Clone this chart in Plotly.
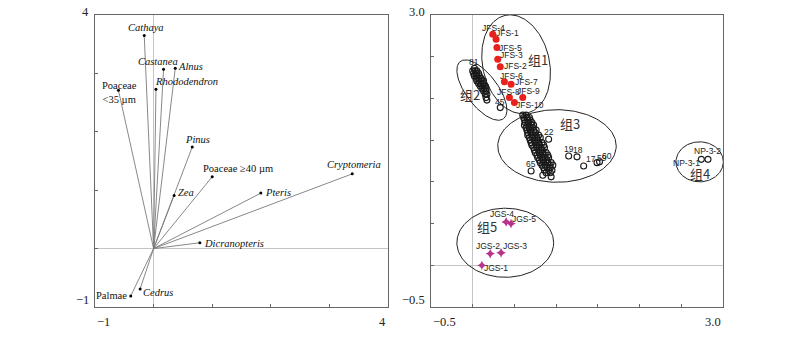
import numpy as np
import plotly.graph_objects as go

# ---------------- Left biplot: taxon scores ----------------
taxa = ["Cathaya", "Castanea", "Alnus", "Rhododendron", "Poaceae<br><35 µm",
        "Pinus", "Poaceae ≥40 µm", "Zea", "Pteris", "Cryptomeria",
        "Dicranopteris", "Cedrus", "Palmae"]
taxa_x = [-0.16, 0.17, 0.37, 0.04, -0.60, 0.66, 1.00, 0.35, 1.83, 3.39, 0.79, -0.23, -0.39]
taxa_y = [3.65, 3.07, 3.09, 2.73, 2.71, 1.74, 1.23, 0.91, 0.95, 1.28, 0.10, -0.69, -0.81]
taxa_italic = [True, True, True, True, False, True, False, True, True, True, True, True, False]

# ---------------- Right plot: sample scores ----------------
jfs_names = ["JFS-4", "JFS-1", "JFS-5", "JFS-3", "JFS-2", "JFS-6", "JFS-7", "JFS-8", "JFS-9", "JFS-10"]
jfs_x = [0.24, 0.28, 0.29, 0.30, 0.33, 0.38, 0.46, 0.44, 0.60, 0.50]
jfs_y = [2.77, 2.71, 2.61, 2.47, 2.38, 2.20, 2.17, 2.01, 2.01, 1.95]

jgs_names = ["JGS-4", "JGS-5", "JGS-2", "JGS-3", "JGS-1"]
jgs_x = [0.40, 0.46, 0.21, 0.34, 0.11]
jgs_y = [0.52, 0.50, 0.14, 0.15, 0.00]

np_names = ["NP-3-2", "NP-3-1"]
np_x = [2.82, 2.74]
np_y = [1.27, 1.27]

grp2_x = [0.00, 0.03, 0.05, 0.01, 0.04, 0.07, 0.02, 0.05, 0.08, 0.04, 0.07, 0.10,
          0.05, 0.08, 0.11, 0.13, 0.07, 0.10, 0.13, 0.09, 0.12, 0.15, 0.11, 0.14,
          0.16, 0.13, 0.16, 0.15, 0.17, 0.16, 0.17]
grp2_y = [2.33, 2.33, 2.33, 2.30, 2.30, 2.30, 2.27, 2.27, 2.27, 2.24, 2.24, 2.24,
          2.21, 2.21, 2.21, 2.21, 2.18, 2.18, 2.18, 2.15, 2.15, 2.15, 2.12, 2.12,
          2.12, 2.09, 2.09, 2.05, 2.05, 2.01, 1.98]
grp2_named = ["81", "45"]
grp2_named_x = [0.02, 0.33]
grp2_named_y = [2.36, 1.89]

grp3_x = [0.60, 0.64,
          0.61, 0.65, 0.68,
          0.62, 0.66, 0.69,
          0.63, 0.67, 0.71,
          0.62, 0.66, 0.70, 0.73,
          0.64, 0.68, 0.72,
          0.65, 0.69, 0.73, 0.76,
          0.66, 0.70, 0.75,
          0.66, 0.71, 0.75, 0.79,
          0.68, 0.72, 0.77, 0.81,
          0.69, 0.74, 0.78,
          0.70, 0.75, 0.79, 0.83,
          0.71, 0.76, 0.80, 0.85,
          0.73, 0.77, 0.82, 0.86,
          0.74, 0.79, 0.83,
          0.75, 0.80, 0.84, 0.88,
          0.77, 0.81, 0.86, 0.90,
          0.78, 0.83, 0.87, 0.91,
          0.80, 0.84, 0.89,
          0.81, 0.85, 0.90, 0.94,
          0.83, 0.87, 0.92, 0.96,
          0.85, 0.89, 0.93,
          0.86, 0.91, 0.95,
          0.88, 0.93]
grp3_y = [1.80, 1.80,
          1.77, 1.77, 1.77,
          1.74, 1.74, 1.74,
          1.71, 1.71, 1.71,
          1.68, 1.68, 1.68, 1.68,
          1.65, 1.65, 1.65,
          1.62, 1.62, 1.62, 1.62,
          1.59, 1.59, 1.59,
          1.56, 1.56, 1.56, 1.56,
          1.53, 1.53, 1.53, 1.53,
          1.50, 1.50, 1.50,
          1.47, 1.47, 1.47, 1.47,
          1.44, 1.44, 1.44, 1.44,
          1.41, 1.41, 1.41, 1.41,
          1.38, 1.38, 1.38,
          1.35, 1.35, 1.35, 1.35,
          1.32, 1.32, 1.32, 1.32,
          1.29, 1.29, 1.29, 1.29,
          1.26, 1.26, 1.26,
          1.23, 1.23, 1.23, 1.23,
          1.20, 1.20, 1.20, 1.20,
          1.17, 1.17, 1.17,
          1.14, 1.14, 1.14,
          1.11, 1.11]
grp3_named = ["22", "65", "", "", "19", "18", "17", "59", "60"]
grp3_named_x = [0.91, 0.70, 0.84, 0.94, 1.15, 1.25, 1.33, 1.49, 1.52]
grp3_named_y = [1.51, 1.13, 1.08, 1.06, 1.31, 1.30, 1.19, 1.23, 1.24]

# Cluster ellipses: centre x, centre y, semi-axis a, semi-axis b, rotation (deg)
groups = ["组1", "组2", "组3", "组4", "组5"]
ell_cx = [0.52, 0.11, 1.01, 2.72, 0.39]
ell_cy = [2.41, 2.10, 1.43, 1.24, 0.27]
ell_a = [0.60, 0.43, 0.71, 0.284, 0.58]
ell_b = [0.40, 0.19, 0.435, 0.24, 0.414]
ell_rot = [102.6, -53.0, 0.0, 0.0, 0.0]
grp_lab_x = [0.78, -0.03, 1.17, 2.72, 0.17]
grp_lab_y = [2.47, 2.05, 1.70, 1.10, 0.46]

# Axis ticks and end labels
left_ticks = [-1, 0, 1, 2, 3, 4]
left_ends = ["−1", "4"]
right_ticks = [-0.5, 0.0, 0.5, 1.0, 1.5, 2.0, 2.5, 3.0]
right_ends = ["−0.5", "3.0"]

SERIF = "Liberation Serif, Times New Roman, serif"
SANS = "Liberation Sans, Arial, sans-serif"
CJK = "Noto Sans CJK SC"

fig = go.Figure()

# vectors from origin
vx, vy = [], []
for x, y in zip(taxa_x, taxa_y):
    vx += [0, x, None]
    vy += [0, y, None]
fig.add_trace(go.Scatter(x=vx, y=vy, mode="lines", line=dict(color="#7a7a7a", width=0.9),
                         hoverinfo="skip", xaxis="x", yaxis="y"))
fig.add_trace(go.Scatter(x=taxa_x, y=taxa_y, mode="markers",
                         marker=dict(color="black", size=3), xaxis="x", yaxis="y"))

# label placement around each vector tip: xanchor, yanchor, xshift, yshift
tip_place = {
    "Cathaya": ("center", "bottom", 2, 0),
    "Castanea": ("center", "bottom", -6, 0),
    "Alnus": ("left", "middle", 1, 2),
    "Rhododendron": ("left", "bottom", -3, 0),
    "Poaceae<br><35 µm": ("center", "middle", 1, -2),
    "Pinus": ("center", "bottom", 5, 0),
    "Poaceae ≥40 µm": ("left", "bottom", -11, 1),
    "Zea": ("left", "middle", 2, 3),
    "Pteris": ("left", "middle", 2, 1),
    "Cryptomeria": ("center", "bottom", 2, 2),
    "Dicranopteris": ("left", "middle", 2, -1),
    "Cedrus": ("left", "middle", 1, -4),
    "Palmae": ("right", "middle", -2, 0),
}
for name, x, y, it in zip(taxa, taxa_x, taxa_y, taxa_italic):
    xa, ya, xs, ys = tip_place[name]
    txt = f"<i>{name}</i>" if it else name
    fig.add_annotation(x=x, y=y, xref="x", yref="y", text=txt, showarrow=False,
                       xanchor=xa, yanchor=ya, xshift=xs, yshift=ys,
                       font=dict(family=SERIF, size=10.5, color="#111"))

# ellipses
for cx, cy, a, b, r in zip(ell_cx, ell_cy, ell_a, ell_b, ell_rot):
    t = np.linspace(0, 2 * np.pi, 181)
    th = np.deg2rad(r)
    ex = cx + a * np.cos(t) * np.cos(th) - b * np.sin(t) * np.sin(th)
    ey = cy + a * np.cos(t) * np.sin(th) + b * np.sin(t) * np.cos(th)
    fig.add_trace(go.Scatter(x=ex, y=ey, mode="lines", line=dict(color="#222", width=1),
                             hoverinfo="skip", xaxis="x2", yaxis="y2"))

open_marker = dict(symbol="circle-open", size=6, color="#1a1a1a", line=dict(width=1.1))

fig.add_trace(go.Scatter(x=grp3_x, y=grp3_y, mode="markers", marker=open_marker,
                         xaxis="x2", yaxis="y2"))
fig.add_trace(go.Scatter(x=grp3_named_x, y=grp3_named_y, mode="markers", marker=open_marker,
                         xaxis="x2", yaxis="y2"))
fig.add_trace(go.Scatter(x=grp2_x, y=grp2_y, mode="markers", marker=open_marker,
                         xaxis="x2", yaxis="y2"))
fig.add_trace(go.Scatter(x=grp2_named_x, y=grp2_named_y, mode="markers", marker=open_marker,
                         xaxis="x2", yaxis="y2"))
fig.add_trace(go.Scatter(x=np_x, y=np_y, mode="markers", marker=open_marker,
                         xaxis="x2", yaxis="y2"))
fig.add_trace(go.Scatter(x=jfs_x, y=jfs_y, mode="markers",
                         marker=dict(symbol="circle", size=7, color="#e8211c"),
                         xaxis="x2", yaxis="y2"))
fig.add_trace(go.Scatter(x=jgs_x, y=jgs_y, mode="markers",
                         marker=dict(symbol="star-diamond", size=7, color="#b8338c"),
                         xaxis="x2", yaxis="y2"))

# sample label offsets (px) from each point: dx, dy (up positive)
label_shift = {
    "JFS-4": (1, 6), "JFS-1": (11, 6), "JFS-5": (14, 0), "JFS-3": (14, 4), "JFS-2": (15, 1),
    "JFS-6": (7, 6), "JFS-7": (15, 2), "JFS-8": (-1, 6), "JFS-9": (6, 7), "JFS-10": (16, -2),
    "JGS-4": (-4, 8), "JGS-5": (13, 5), "JGS-2": (-2, 8), "JGS-3": (14, 7), "JGS-1": (14, -3),
    "NP-3-2": (0, 8), "NP-3-1": (-15, -4),
    "81": (0, 6), "45": (0, 6), "22": (0, 7), "65": (0, 7), "19": (0, 7), "18": (1, 7),
    "17": (7, 7), "59": (5, 5), "60": (7, 6),
}
lab_font = dict(family=SANS, size=8.5, color="#222")
for names, xs, ys in ((jfs_names, jfs_x, jfs_y), (jgs_names, jgs_x, jgs_y),
                      (np_names, np_x, np_y), (grp2_named, grp2_named_x, grp2_named_y),
                      (grp3_named, grp3_named_x, grp3_named_y)):
    for n, x, y in zip(names, xs, ys):
        if not n:
            continue
        dx, dy = label_shift[n]
        fig.add_annotation(x=x, y=y, xref="x2", yref="y2", text=n, showarrow=False,
                           xanchor="center", yanchor="middle", xshift=dx, yshift=dy,
                           font=lab_font)

for g, x, y in zip(groups, grp_lab_x, grp_lab_y):
    fig.add_annotation(x=x, y=y, xref="x2", yref="y2", text=g, showarrow=False,
                       font=dict(family=CJK, size=13, color="#333"))

# end labels on axes
tick_font = dict(family=SERIF, size=12.5, color="#222")
for xr, yr, ticks, ends in (("x", "y", left_ticks, left_ends), ("x2", "y2", right_ticks, right_ends)):
    lo, hi = ticks[0], ticks[-1]
    fig.add_annotation(x=lo, y=0, xref=xr, yref=f"{yr} domain", text=ends[0], showarrow=False,
                       xanchor="left", yanchor="top", yshift=-6, font=tick_font)
    fig.add_annotation(x=hi, y=0, xref=xr, yref=f"{yr} domain", text=ends[1], showarrow=False,
                       xanchor="right", yanchor="top", yshift=-6, font=tick_font)
    fig.add_annotation(x=0, y=lo, xref=f"{xr} domain", yref=yr, text=ends[0], showarrow=False,
                       xanchor="right", yanchor="middle", xshift=-4, yshift=7, font=tick_font)
    fig.add_annotation(x=0, y=hi, xref=f"{xr} domain", yref=yr, text=ends[1], showarrow=False,
                       xanchor="right", yanchor="middle", xshift=-4, yshift=3, font=tick_font)

axis_common = dict(showgrid=False, showline=True, mirror=True, linecolor="#666", linewidth=1,
                   ticks="inside", ticklen=3, tickcolor="#666", showticklabels=False,
                   zeroline=True, zerolinecolor="#c4c4c4", zerolinewidth=1, fixedrange=True)

fig.update_layout(
    width=800, height=338, showlegend=False,
    paper_bgcolor="white", plot_bgcolor="white",
    margin=dict(l=0, r=0, t=15, b=31),
    xaxis=dict(domain=[0.11875, 0.485], range=[-1, 4], tickvals=left_ticks, anchor="y", **axis_common),
    yaxis=dict(domain=[0, 1], range=[-1, 4], tickvals=left_ticks, anchor="x", **axis_common),
    xaxis2=dict(domain=[0.53875, 0.90375], range=[-0.5, 3.0], tickvals=right_ticks, anchor="y2", **axis_common),
    yaxis2=dict(domain=[0, 1], range=[-0.5, 3.0], tickvals=right_ticks, anchor="x2", **axis_common),
)

fig.write_html("out.html")
